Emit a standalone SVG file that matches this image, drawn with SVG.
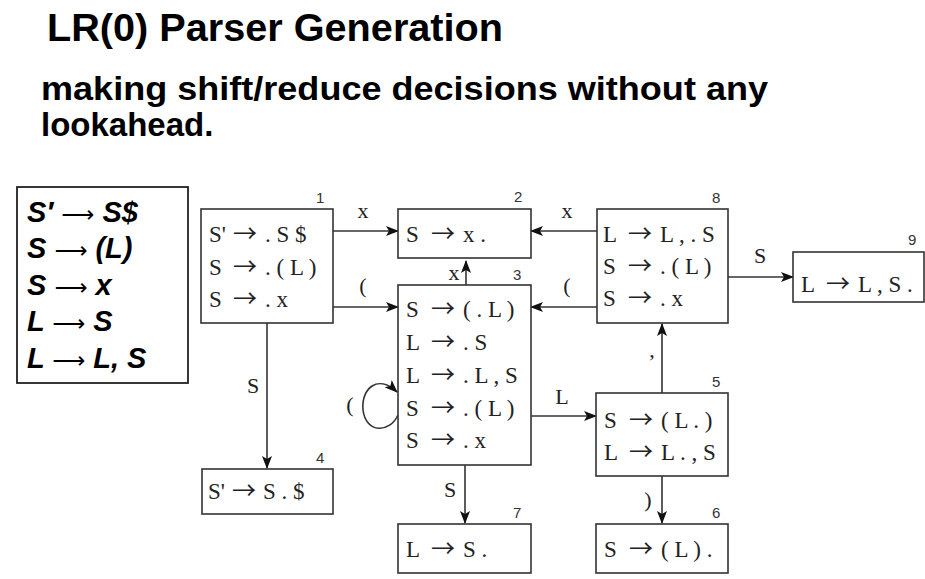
<svg xmlns="http://www.w3.org/2000/svg" width="925" height="579" viewBox="0 0 925 579">
<defs>
<style>
.title{font-family:"Liberation Sans",Arial,sans-serif;font-weight:bold;fill:#000}
.gram{font-family:"Liberation Sans",Arial,sans-serif;font-weight:bold;font-style:italic;font-size:29px;fill:#000}
.garr{font-family:"DejaVu Sans",sans-serif;font-weight:normal;font-style:normal;font-size:23px}
.box{fill:#fff;stroke:#333;stroke-width:1.6}
.it{font-family:"Liberation Serif","Times New Roman",serif;font-size:23px;fill:#222}
.ar{font-family:"Noto Sans CJK SC","DejaVu Sans",sans-serif;font-size:24px;font-weight:normal}
.num{font-family:"Liberation Sans",Arial,sans-serif;font-size:15px;fill:#333}
.lbl{font-family:"Liberation Serif","Times New Roman",serif;font-size:22px;fill:#222;text-anchor:middle}
.edge{fill:none;stroke:#333;stroke-width:1.6}
</style>
<marker id="ah" markerWidth="13" markerHeight="10" refX="12" refY="5" orient="auto" markerUnits="userSpaceOnUse">
<path d="M0,0 L13,5 L0,10 L3,5 Z" fill="#111"/>
</marker>
</defs>
<rect width="925" height="579" fill="#fff"/>
<text class="title" x="47" y="41" font-size="38" textLength="456" lengthAdjust="spacingAndGlyphs">LR(0) Parser Generation</text>
<text class="title" x="41" y="100" font-size="33" textLength="727" lengthAdjust="spacingAndGlyphs">making shift/reduce decisions without any</text>
<text class="title" x="41" y="136" font-size="33">lookahead.</text>

<g id="grammar">
<rect x="17" y="187" width="171" height="196" fill="#fff" stroke="#222" stroke-width="1.8"/>
<text class="gram" x="27" y="222">S′ <tspan class="garr">⟶</tspan> S$</text>
<text class="gram" x="27" y="258">S <tspan class="garr">⟶</tspan> (L)</text>
<text class="gram" x="27" y="295">S <tspan class="garr">⟶</tspan> x</text>
<text class="gram" x="27" y="331">L <tspan class="garr">⟶</tspan> S</text>
<text class="gram" x="27" y="368">L <tspan class="garr">⟶</tspan> L, S</text>
</g>

<g id="edges">
<path class="edge" d="M333,231 L398,231" marker-end="url(#ah)"/>
<path class="edge" d="M333,307 L398,307" marker-end="url(#ah)"/>
<path class="edge" d="M597,231 L531,231" marker-end="url(#ah)"/>
<path class="edge" d="M597,307 L531,307" marker-end="url(#ah)"/>
<path class="edge" d="M466,285 L466,261" marker-end="url(#ah)"/>
<path class="edge" d="M267,323 L267,468" marker-end="url(#ah)"/>
<path class="edge" d="M465,465 L465,523" marker-end="url(#ah)"/>
<path class="edge" d="M531,416 L596,416" marker-end="url(#ah)"/>
<path class="edge" d="M662,476 L662,523" marker-end="url(#ah)"/>
<path class="edge" d="M662,393 L662,324" marker-end="url(#ah)"/>
<path class="edge" d="M728,277 L793,277" marker-end="url(#ah)"/>
<path class="edge" d="M398,415 C390,433 366,434 363,410 C361,388 378,374 397,392" marker-end="url(#ah)"/>
<text class="lbl" x="363" y="218">x</text>
<text class="lbl" x="363" y="293">(</text>
<text class="lbl" x="567" y="218">x</text>
<text class="lbl" x="567" y="293">(</text>
<text class="lbl" x="454" y="280">x</text>
<text class="lbl" x="253" y="393">S</text>
<text class="lbl" x="450" y="497">S</text>
<text class="lbl" x="562" y="404">L</text>
<text class="lbl" x="648" y="507">)</text>
<text class="lbl" x="652" y="357">,</text>
<text class="lbl" x="760" y="263">S</text>
<text class="lbl" x="350" y="412">(</text>
</g>

<g id="state1">
<rect class="box" x="201" y="209" width="132" height="114"/>
<text class="num" x="316" y="203">1</text>
<text class="it" x="209" y="242">S' <tspan class="ar" x="233">→</tspan><tspan x="265">. S $</tspan></text>
<text class="it" x="209" y="275">S <tspan class="ar" x="233">→</tspan><tspan x="265">. ( L )</tspan></text>
<text class="it" x="209" y="307">S <tspan class="ar" x="233">→</tspan><tspan x="265">. x</tspan></text>
</g>

<g id="state2">
<rect class="box" x="398" y="209" width="133" height="49"/>
<text class="num" x="514" y="202">2</text>
<text class="it" x="406" y="242">S <tspan class="ar" x="431">→</tspan><tspan x="463">x .</tspan></text>
</g>

<g id="state3">
<rect class="box" x="398" y="285" width="133" height="180"/>
<text class="num" x="513" y="280">3</text>
<text class="it" x="406" y="317">S <tspan class="ar" x="431">→</tspan><tspan x="463">( . L )</tspan></text>
<text class="it" x="406" y="350">L <tspan class="ar" x="431">→</tspan><tspan x="463">. S</tspan></text>
<text class="it" x="406" y="383">L <tspan class="ar" x="431">→</tspan><tspan x="463">. L , S</tspan></text>
<text class="it" x="406" y="416">S <tspan class="ar" x="431">→</tspan><tspan x="463">. ( L )</tspan></text>
<text class="it" x="406" y="448">S <tspan class="ar" x="431">→</tspan><tspan x="463">. x</tspan></text>
</g>

<g id="state4">
<rect class="box" x="202" y="469" width="131" height="45"/>
<text class="num" x="316" y="463">4</text>
<text class="it" x="208" y="499">S' <tspan class="ar" x="232">→</tspan><tspan x="263">S . $</tspan></text>
</g>

<g id="state5">
<rect class="box" x="596" y="393" width="132" height="83"/>
<text class="num" x="712" y="387">5</text>
<text class="it" x="604" y="428">S <tspan class="ar" x="629">→</tspan><tspan x="661">( L . )</tspan></text>
<text class="it" x="604" y="460">L <tspan class="ar" x="629">→</tspan><tspan x="661">L . , S</tspan></text>
</g>

<g id="state6">
<rect class="box" x="596" y="524" width="132" height="49"/>
<text class="num" x="712" y="518">6</text>
<text class="it" x="604" y="557">S <tspan class="ar" x="629">→</tspan><tspan x="661">( L ) .</tspan></text>
</g>

<g id="state7">
<rect class="box" x="398" y="524" width="133" height="49"/>
<text class="num" x="513" y="518">7</text>
<text class="it" x="406" y="557">L <tspan class="ar" x="431">→</tspan><tspan x="463">S .</tspan></text>
</g>

<g id="state8">
<rect class="box" x="597" y="209" width="131" height="114"/>
<text class="num" x="712" y="203">8</text>
<text class="it" x="603" y="242">L <tspan class="ar" x="628">→</tspan><tspan x="660">L , . S</tspan></text>
<text class="it" x="603" y="274">S <tspan class="ar" x="628">→</tspan><tspan x="660">. ( L )</tspan></text>
<text class="it" x="603" y="306">S <tspan class="ar" x="628">→</tspan><tspan x="660">. x</tspan></text>
</g>

<g id="state9">
<rect class="box" x="793" y="252" width="131" height="50"/>
<text class="num" x="908" y="245">9</text>
<text class="it" x="801" y="292">L <tspan class="ar" x="826">→</tspan><tspan x="858">L , S .</tspan></text>
</g>
</svg>
